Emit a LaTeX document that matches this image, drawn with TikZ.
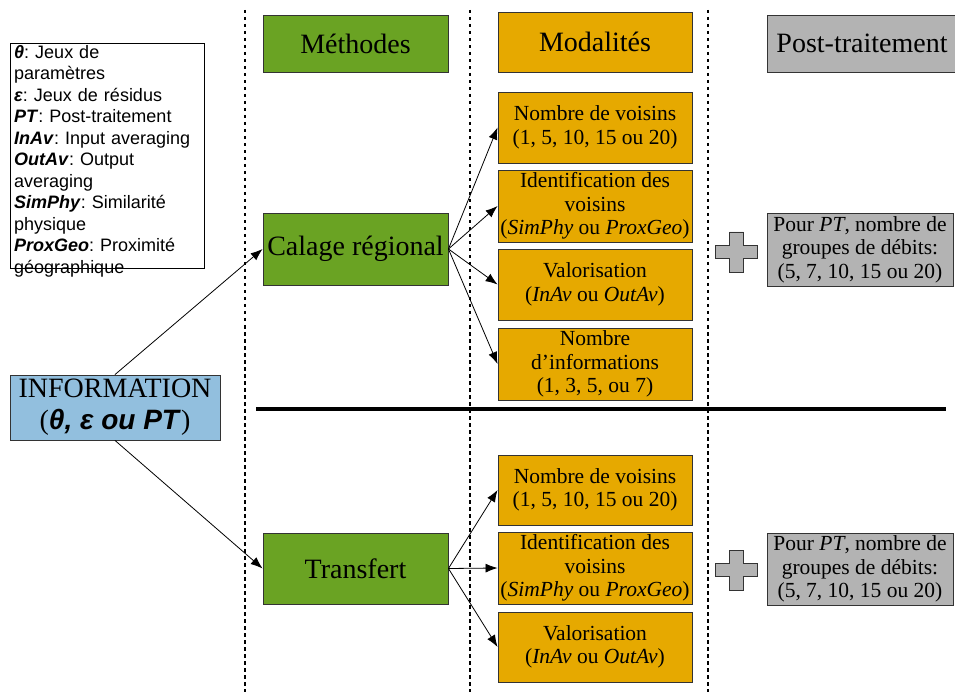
\documentclass[tikz,border=0pt]{standalone}
\usepackage{fontspec}
\setmainfont{Liberation Serif}
\setsansfont{Liberation Sans}
\usetikzlibrary{arrows.meta}
\frenchspacing
\definecolor{cgreen}{HTML}{6AA323}
\definecolor{corange}{HTML}{E6A900}
\definecolor{cgray}{HTML}{B3B3B3}
\definecolor{cblue}{HTML}{92BFDE}
\definecolor{cborder}{HTML}{333333}
\tikzset{
  box/.style={draw=cborder, line width=0.9pt, inner sep=0pt, align=center},
  big/.style={font=\fontsize{28}{32}\selectfont},
  mid/.style={font=\fontsize{21.5}{23.5}\selectfont},
  methbox/.style={box, big, fill=cgreen, minimum width=185pt},
  modbox/.style={box, mid, fill=corange, minimum width=194pt},
  ptbox/.style={box, mid, fill=cgray, minimum width=190pt},
  arr/.style={line width=0.8pt, -{Latex[length=12pt,width=9pt]}},
  dotline/.style={line width=2pt, dash pattern=on 3.5pt off 3.5pt},
  plusshape/.style={draw=cborder, line width=0.9pt, fill=cgray}
}
\begin{document}
\begin{tikzpicture}[x=1pt,y=-1pt]
\useasboundingbox (0,0) rectangle (955,692);

% separators
\draw[dotline] (245,10) -- (245,692);
\draw[dotline] (470,10) -- (470,692);
\draw[dotline] (708,10) -- (708,692);
\draw[line width=4pt] (256,409) -- (946,409);

% legend
\draw[line width=0.9pt] (10,43) rectangle (204,268);
\node[anchor=north west, inner sep=0pt, align=left, text width=190pt,
      font=\sffamily\fontsize{18}{21.5}\selectfont] (legend) at (14,45)
  {\textbf{\textit{θ}}: Jeux de\\paramètres\\\textbf{\textit{ε}}: Jeux de résidus\\
   \textbf{\textit{PT}}: Post-traitement\\\textbf{\textit{InAv}}: Input averaging\\
   \textbf{\textit{OutAv}}: Output\\averaging\\\textbf{\textit{SimPhy}}: Similarité\\
   physique\\\textbf{\textit{ProxGeo}}: Proximité\\géographique};

% headers
\node[methbox, minimum height=57pt] (hmeth) at (355.5,43.5) {Méthodes};
\node[box, big, fill=corange, minimum width=194pt, minimum height=60pt] (hmod) at (595,42) {Modalités};
\node[box, big, fill=cgray, minimum width=190pt, minimum height=57pt] (hpt) at (862,43.5) {Post-traitement};

% information
\node[box, big, fill=cblue, minimum width=210pt, minimum height=65pt] (info) at (115,407.5)
  {INFORMATION\\(\textsf{\textbf{\textit{θ, ε ou PT}}})};

% methods
\node[methbox, minimum height=72pt] (cal) at (355.5,249) {Calage régional};
\node[methbox, minimum height=71pt] (tra) at (355.5,568.5) {Transfert};

% modalities (top)
\node[modbox, minimum height=71pt] (m1) at (595,127.5) {Nombre de voisins\\(1, 5, 10, 15 ou 20)};
\node[modbox, minimum height=72pt] (m2) at (595,206) {Identification des\\voisins\\(\textit{SimPhy} ou \textit{ProxGeo})};
\node[modbox, minimum height=71pt] (m3) at (595,284.5) {Valorisation\\(\textit{InAv} ou \textit{OutAv})};
\node[modbox, minimum height=72pt] (m4) at (595,364) {Nombre\\d’informations\\(1, 3, 5, ou 7)};

% modalities (bottom)
\node[modbox, minimum height=70pt] (b1) at (595,490) {Nombre de voisins\\(1, 5, 10, 15 ou 20)};
\node[modbox, minimum height=72pt] (b2) at (595,568) {Identification des\\voisins\\(\textit{SimPhy} ou \textit{ProxGeo})};
\node[modbox, minimum height=70pt] (b3) at (595,647) {Valorisation\\(\textit{InAv} ou \textit{OutAv})};

% post-processing
\node[ptbox, minimum width=186pt, minimum height=73pt] (pt1) at (860,249.5) {Pour \textit{PT}, nombre de\\groupes de débits:\\(5, 7, 10, 15 ou 20)};
\node[ptbox, minimum width=186pt, minimum height=72pt] (pt2) at (860,569) {Pour \textit{PT}, nombre de\\groupes de débits:\\(5, 7, 10, 15 ou 20)};

% plus signs
\foreach \cy in {252,570}{
  \draw[plusshape, shift={(736.5,\cy)}]
    (-7,-20) -- (7,-20) -- (7,-6.5) -- (21,-6.5) -- (21,6.5) -- (7,6.5) -- (7,20)
    -- (-7,20) -- (-7,6.5) -- (-21,6.5) -- (-21,-6.5) -- (-7,-6.5) -- cycle;
}

% connectors
\draw[arr] (info.north) -- (cal.west);
\draw[arr] (info.south) -- (tra.west);
\foreach \t in {m1,m2,m3,m4} \draw[arr] (cal.east) -- (\t.west);
\foreach \t in {b1,b2,b3} \draw[arr] (tra.east) -- (\t.west);
\end{tikzpicture}
\end{document}
